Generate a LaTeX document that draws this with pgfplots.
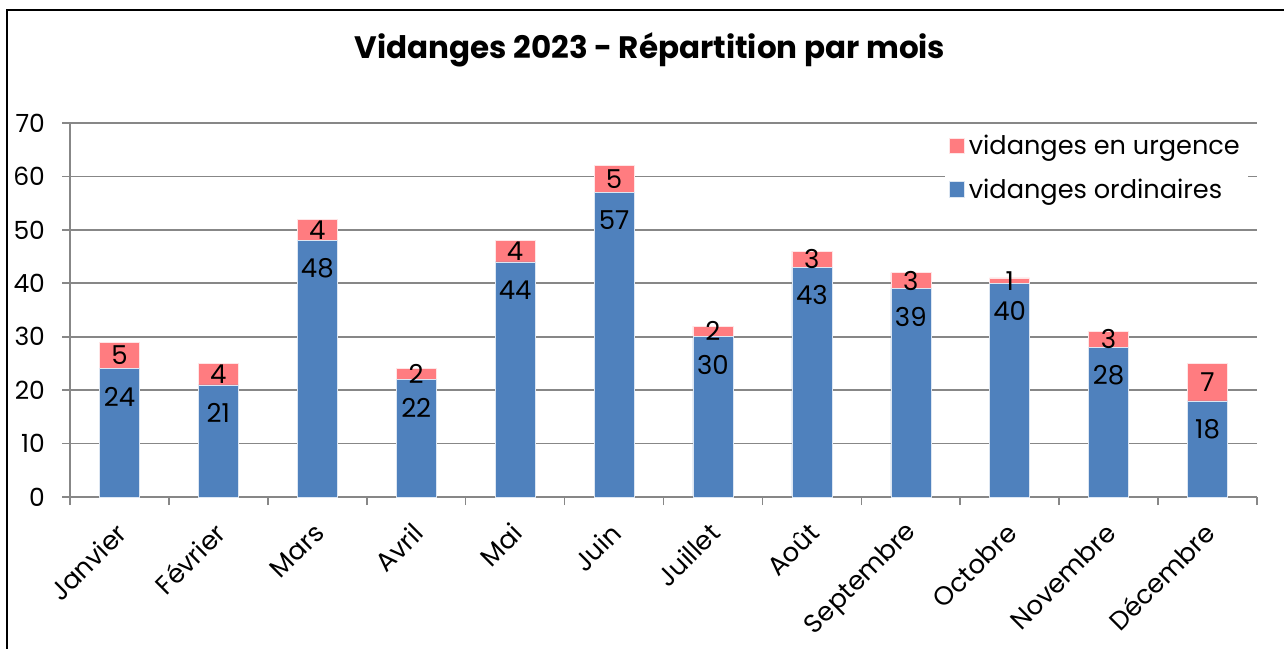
\documentclass[border=0pt]{standalone}
\usepackage{pgfplots}
\usepackage{pgfplotstable}
\pgfplotsset{compat=1.18}
\usepackage{fontspec}
\setmainfont{Poppins}
\definecolor{ordblue}{HTML}{4F81BD}
\definecolor{urgred}{HTML}{FF7C80}
\definecolor{gridgray}{HTML}{878787}

% x: mois (0 = Janvier), o: vidanges ordinaires, u: vidanges en urgence
\pgfplotstableread{
x o u
0 24 5
1 21 4
2 48 4
3 22 2
4 44 4
5 57 5
6 30 2
7 43 3
8 39 3
9 40 1
10 28 3
11 18 7
}\vidanges

\pgfplotsset{common/.style={
    scale only axis,
    width=593.5pt, height=187pt,
    xmin=-0.5, xmax=11.5,
    ymin=0, ymax=70,
    at={(0,0)}, anchor=south west,
    /pgf/number format/assume math mode=true,
}}

\begin{document}
\begin{tikzpicture}
\useasboundingbox (-35pt,-75.5pt) rectangle (607pt,248.5pt);
\draw[line width=1pt] (-31.5pt,-90pt) -- (-31.5pt,243.5pt) -- (620pt,243.5pt);
\node[font=\fontsize{15.5}{18}\selectfont\bfseries] at (290pt,223.5pt) {Vidanges 2023 - Répartition par mois};
\begin{axis}[
    common,
    ybar stacked,
    bar width=20pt,
    ytick={0,10,...,70},
    xtick={0,...,11},
    xticklabels={Janvier,Février,Mars,Avril,Mai,Juin,Juillet,Août,Septembre,Octobre,Novembre,Décembre},
    minor xtick={-0.5,0.5,...,11.5},
    major x tick style={draw=none},
    minor tick length=4pt,
    major tick length=4pt,
    tick align=outside,
    axis x line*=bottom, axis y line*=left,
    axis line style={gridgray, line width=1pt},
    every tick/.style={gridgray, line width=0.8pt},
    ymajorgrids,
    major grid style={gridgray, line width=0.8pt},
    tick label style={font=\fontsize{12.5}{14}\selectfont},
    xticklabel style={font=\fontsize{13}{15}\selectfont, rotate=45, anchor=east, xshift=-4pt, yshift=-9pt},
    yticklabel style={xshift=-5pt},
    legend style={draw=none, fill=white, at={(0.737,0.99)}, anchor=north west,
        font=\fontsize{12.8}{15}\selectfont, row sep=6.5pt, inner sep=2pt,
        /tikz/every even column/.append style={column sep=2pt}},
    legend cell align=left,
    reverse legend,
    legend image code/.code={\fill[#1] (0pt,-3.6pt) rectangle (7.5pt,4.2pt);},
]
\addplot[fill=ordblue, draw=white!80!ordblue, line width=0.3pt] table[x=x, y=o] {\vidanges};
\addlegendentry{vidanges ordinaires}
\addplot[fill=urgred, draw=white!80!urgred, line width=0.3pt] table[x=x, y=u] {\vidanges};
\addlegendentry{vidanges en urgence}
\end{axis}
% data labels
\begin{axis}[
    common,
    hide axis,
    nodes near coords,
    nodes near coords align={center},
    every node near coord/.append style={font=\fontsize{13}{15}\selectfont, black},
    point meta=explicit,
]
\addplot[draw=none, mark=none, every node near coord/.append style={yshift=-14pt}]
    table[x=x, y=o, meta=o] {\vidanges};
\addplot[draw=none, mark=none]
    table[x=x, y expr=\thisrow{o}+0.5*\thisrow{u}, meta=u] {\vidanges};
\end{axis}
\end{tikzpicture}
\end{document}
